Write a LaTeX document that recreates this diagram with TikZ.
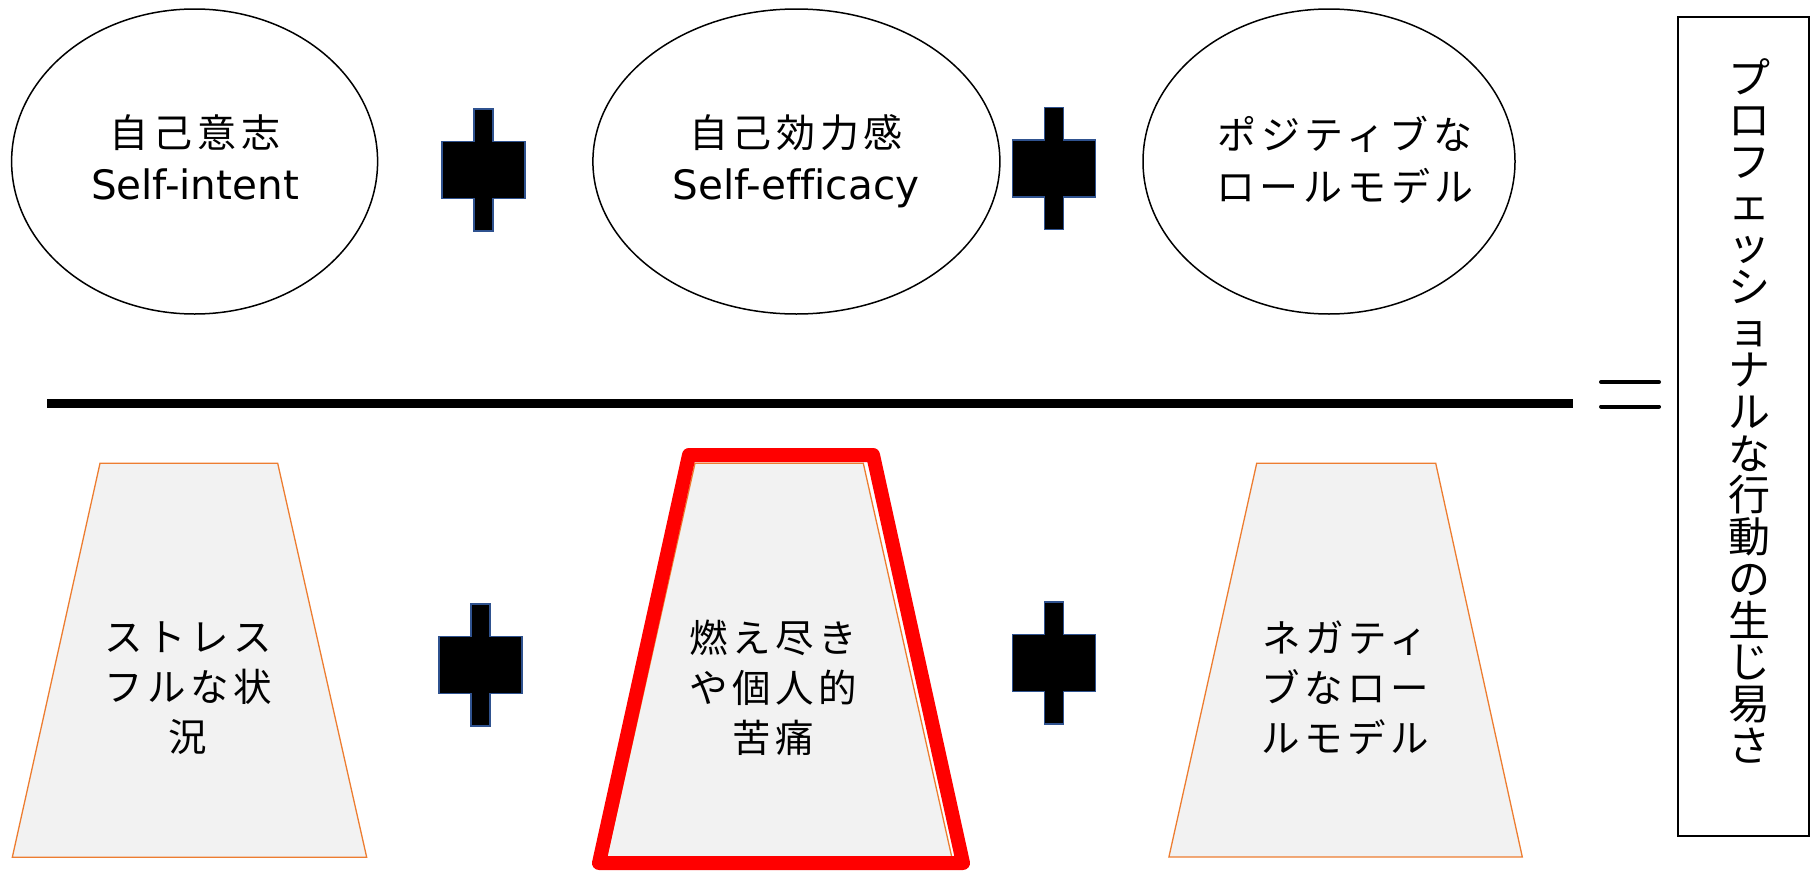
\documentclass[tikz,border=0pt]{standalone}
\usepackage{fontspec}
\setmainfont{DejaVu Sans}[Ligatures={NoCommon}]
\newfontfamily\cjk{Noto Sans CJK JP}[LetterSpace=12]
\newfontfamily\cjkv{Noto Sans CJK JP}
\usetikzlibrary{shapes.geometric}
\definecolor{trapfill}{HTML}{F2F2F2}
\definecolor{trapline}{HTML}{ED7D31}
\definecolor{plusline}{HTML}{2F528F}
\definecolor{hotred}{HTML}{FF0000}
\tikzset{
  oval/.style={ellipse, draw=black, line width=1.5pt, inner sep=0pt, minimum height=305pt},
  ovaltext/.style={align=center, font=\fontsize{40.5}{52}\selectfont, text depth=0pt},
  traptext/.style={align=center, font=\cjk\fontsize{38.5}{50}\selectfont},
  trapshape/.style={fill=trapfill, draw=trapline, line width=1.3pt, line join=miter},
  plussign/.pic={\draw[draw=plusline, line width=1.5pt, fill=black]
     (-9.5,-61) -- (9.5,-61) -- (9.5,-28.5) -- (41.5,-28.5) -- (41.5,28.5) -- (9.5,28.5)
     -- (9.5,61) -- (-9.5,61) -- (-9.5,28.5) -- (-41.5,28.5) -- (-41.5,-28.5) -- (-9.5,-28.5) -- cycle;}
}
\begin{document}
\begin{tikzpicture}[x=1pt,y=-1pt]
\useasboundingbox (0,0) rectangle (1811,870);

% top row ellipses
\node[oval, minimum width=366pt] (e1) at (194.6,161.5) {};
\node[oval, minimum width=407pt] (e2) at (796.4,161.5) {};
\node[oval, minimum width=372pt] (e3) at (1329,161.5) {};
\node[ovaltext] (t1) at (195,157) {{\cjk\fontsize{39}{52}\selectfont 自己意志}\\Self-intent};
\node[ovaltext] (t2) at (796,157) {{\cjk\fontsize{39}{52}\selectfont 自己効力感}\\Self-efficacy};
\node[ovaltext, font=\cjk\fontsize{39}{52}\selectfont] (t3) at (1345,159) {ポジティブな\\ロールモデル};

% plus signs
\pic (p1) at (483.3,170) {plussign};
\pic (p2) at (1054,168.6) {plussign};
\pic (p3) at (480.5,665) {plussign};
\pic (p4) at (1054,663) {plussign};

% dividing line and equal sign
\coordinate (hl) at (47,403);
\coordinate (hr) at (1573,403);
\draw[line width=9pt] (hl) -- (hr);
\coordinate (eqa) at (1601,382);
\coordinate (eqb) at (1659,382);
\coordinate (eqc) at (1601,406.5);
\coordinate (eqd) at (1659,406.5);
\draw[line width=4pt, line cap=round] (eqa) -- (eqb);
\draw[line width=4pt, line cap=round] (eqc) -- (eqd);

% bottom trapezoids
\draw[trapshape] (100,463.3) -- (277.7,463.3) -- (366.7,857.3) -- (12.3,857.3) -- cycle;
\draw[trapshape] (695,463.3) -- (863.3,463.3) -- (951.7,856.7) -- (606.7,856.7) -- cycle;
\draw[trapshape] (1256.7,463.2) -- (1435.7,463.2) -- (1522.3,857) -- (1168.9,857) -- cycle;
\draw[hotred, line width=14pt, line join=round] (689,455) -- (873,455) -- (963,863) -- (599,863) -- cycle;

\node[traptext] (b1) at (188,688) {ストレス\\フルな状\\況};
\node[traptext] (b2) at (773,688) {燃え尽き\\や個人的\\苦痛};
\node[traptext] (b3) at (1345,688) {ネガティ\\ブなロー\\ルモデル};

% right box with vertical text
\node[draw=black, line width=1.5pt, minimum width=131pt, minimum height=819pt, inner sep=0pt] (rbox) at (1743.5,426.5) {};
\node[align=center, font=\cjkv\fontsize{42}{41.7}\selectfont, inner sep=0pt] (vt) at (1749,411)
  {プ\\ロ\\フ\\ェ\\ッ\\シ\\ョ\\ナ\\ル\\な\\行\\動\\の\\生\\じ\\易\\さ};
\end{tikzpicture}
\end{document}
